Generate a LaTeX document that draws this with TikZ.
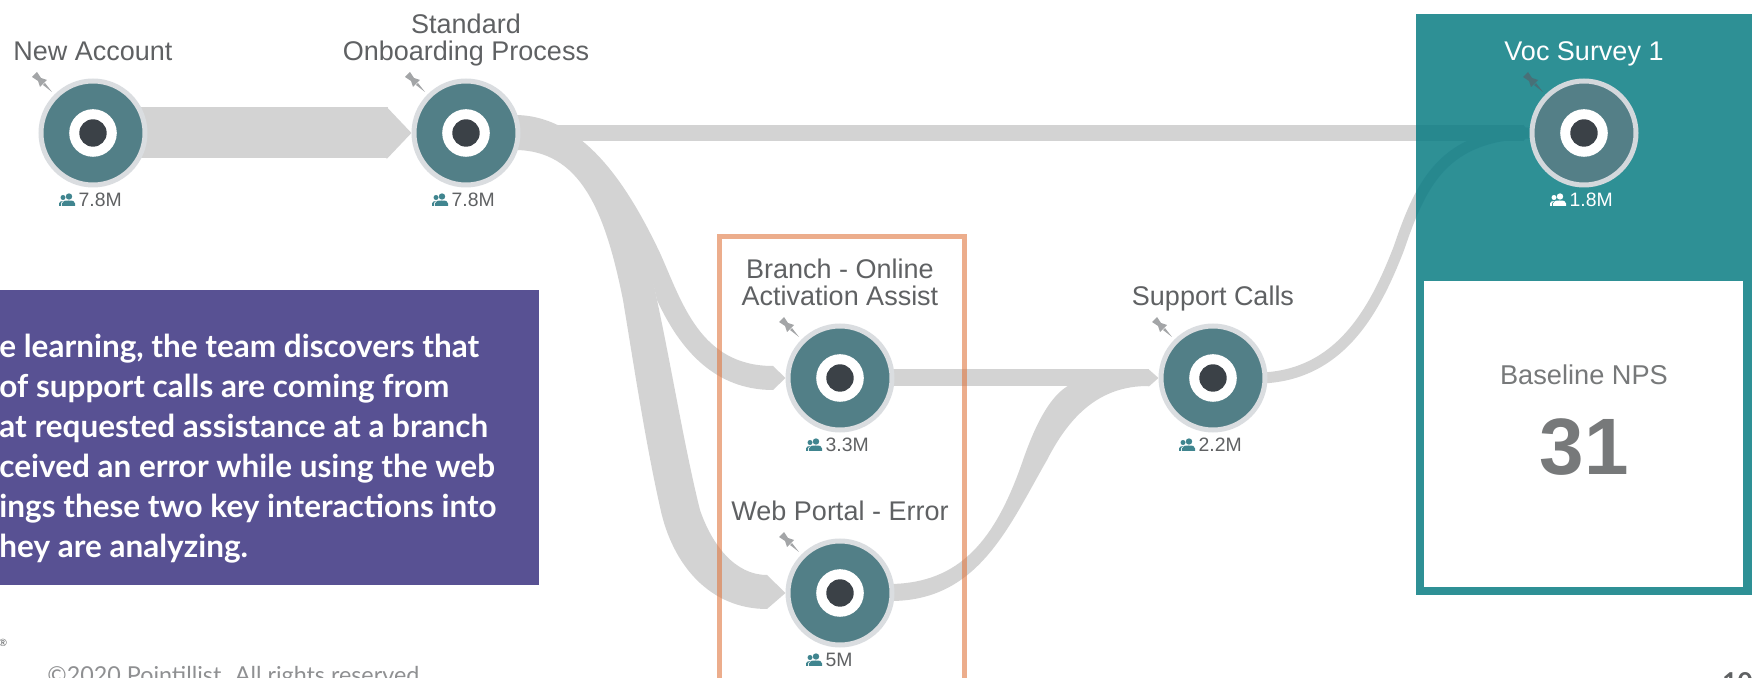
\documentclass[tikz,border=0pt]{standalone}
\usepackage{fontspec}
\setmainfont{Liberation Sans}
\newfontfamily\latofont{Lato}
\usetikzlibrary{arrows.meta,positioning,backgrounds}

\definecolor{ribbongrey}{HTML}{D3D3D3}
\definecolor{ringteal}{HTML}{527F87}
\definecolor{ringedge}{HTML}{DADDE0}
\definecolor{eyedark}{HTML}{3B4147}
\definecolor{labelgrey}{HTML}{5F6163}
\definecolor{pingrey}{HTML}{A3A5A7}
\definecolor{folkteal}{HTML}{40858F}
\definecolor{panelteal}{RGB}{9,124,131}
\definecolor{noteviolet}{HTML}{585193}
\definecolor{hiliteorange}{RGB}{223,118,63}

\tikzset{
    stage/.style={circle, fill=ringteal, draw=ringedge, line width=2.5pt, minimum size=52pt, inner sep=0pt,
        path picture={
            \fill[white] (path picture bounding box.center) circle (11.9pt);
            \fill[eyedark] (path picture bounding box.center) circle (6.85pt);
        }},
    title/.style={font=\fontsize{13.5}{13.5}\selectfont, text=labelgrey, align=center, inner sep=0pt, text depth=0pt},
    tally/.style={font=\fontsize{9.7}{10}\selectfont, text=labelgrey, inner sep=0pt, text height=6.95pt, text depth=0pt},
    ribbon/.style={draw=none, fill=ribbongrey},
    band/.style={draw=ribbongrey, shorten <=-5pt},
    pin/.pic={
        \fill[pic actions] (-61,-56) -- (-56,-61) -- (-52,-55) -- (-46,-53) -- (-53,-46) -- (-55,-52) -- cycle;
        \fill[pic actions] (-50,-48) -- (-48,-50) -- (-41,-41) -- cycle;
    },
    folks/.pic={
        \fill[pic actions] (-24,63.5) circle (3.2);
        \fill[pic actions] (-31,73) -- (-31,70.5) .. controls (-31,68) and (-28,67.5) .. (-24.5,67.5)
            .. controls (-20,67.5) and (-18,68) .. (-18,70.5) -- (-18,73) -- cycle;
        \fill[pic actions] (-30,64.5) circle (2.5);
        \fill[pic actions] (-34,73) -- (-34,70.5) .. controls (-34,69) and (-32,68) .. (-30,68)
            -- (-32,70) -- (-32,73) -- cycle;
    }
}

\begin{document}
\begin{tikzpicture}[x=0.5pt, y=-0.5pt]
    \path[use as bounding box, clip] (0,0) rectangle (1758,678);

    % stages
    \node[stage] (acct) at (93,133) {};
    \node[stage] (onb) at (466,133) {};
    \node[stage] (branch) at (840,378) {};
    \node[stage] (web) at (840,593) {};
    \node[stage] (supp) at (1213,378) {};
    \node[stage, fill=ringteal!95!gray, draw=ringedge!95!ringteal] (voc) at (1584,133) {};

    % flows and the teal panel go under the stages
    \begin{scope}[on background layer]
        \draw[band, line width=25.5pt, -{Triangle[length=12.5pt, width=0pt 1]}] (acct) -- (onb);
        \draw[band, line width=8pt, -{Triangle[length=3pt, width=0pt 1]}] (onb) -- (voc);
        \draw[band, line width=8.5pt, -{Triangle[length=5pt, width=0pt 1]}] (branch) -- (supp);
        \fill[ribbon] ([xshift=-3pt, yshift=9pt]onb.east) .. controls (585,115) and (630,190) .. (660,253)
            .. controls (682,302) and (700,366) .. (773,366) -- (branch.west) -- (773,390)
            .. controls (715,390) and (680,350) .. (657,300)
            .. controls (640,220) and (590,135) .. (onb.east) -- cycle;
        \fill[ribbon] ([xshift=-3pt, yshift=-8.5pt]onb.east) .. controls (580,150) and (605,210) .. (623,300)
            .. controls (633,360) and (645,440) .. (660,507)
            .. controls (672,565) and (710,609) .. (767,609) -- (web.west) -- (767,575)
            .. controls (735,575) and (712,545) .. (700,510)
            .. controls (685,450) and (672,370) .. (657,300)
            .. controls (640,210) and (590,125) .. (onb.east) -- cycle;
        \fill[ribbon] ([xshift=-2pt, yshift=4.5pt]web.east) .. controls (960,583) and (995,540) .. (1022,463)
            .. controls (1040,410) and (1060,381) .. (1085,381) -- (1148,386)
            .. controls (1100,386) and (1070,415) .. (1047,460)
            .. controls (1008,528) and (978,601) .. ([xshift=-2pt, yshift=-4pt]web.east) -- cycle;
        \draw[band, line width=5.5pt] (supp.east) .. controls (1340,377) and (1375,310) .. (1399,248)
            .. controls (1422,180) and (1445,136) .. (voc.west);
        \fill[panelteal, opacity=.85] (1415.5,14) rectangle (1751.5,595);
        \fill[white] (1424,281) rectangle (1743,587);
    \end{scope}

    % note on the left
    \fill[noteviolet] (0,290) rectangle (539,585);
    \node[anchor=west, align=left, inner sep=0pt, text=white,
        font=\latofont\bfseries\fontsize{15.75}{20}\selectfont] (note) at (-1,449) {e learning, the team discovers that\\
        of support calls are coming from\\
        at requested assistance at a branch\\
        ceived an error while using the web\\
        ings these two key interactions into\\
        hey are analyzing.};

    % orange frame round the two stages
    \draw[hiliteorange, opacity=.6, line width=2.5pt] (719.5,236.5) rectangle (964,720);

    % titles
    \node[title, above=36pt of acct.center] (acctname) {New Account};
    \node[title, above=36pt of onb.center] (onbname) {Standard\\Onboarding Process};
    \node[title, above=36pt of branch.center] (branchname) {Branch - Online\\Activation Assist};
    \node[title, above=36pt of web.center] (webname) {Web Portal - Error};
    \node[title, above=36pt of supp.center] (suppname) {Support Calls};
    \node[title, text=white, above=36pt of voc.center] (vocname) {Voc Survey 1};

    % counts
    \node[tally, below right=29.8pt and -7.35pt of acct.center] (acctnum) {7.8M};
    \node[tally, below right=29.8pt and -7.35pt of onb.center] (onbnum) {7.8M};
    \node[tally, below right=29.8pt and -7.35pt of branch.center] (branchnum) {3.3M};
    \node[tally, below right=29.8pt and -7.35pt of web.center] (webnum) {5M};
    \node[tally, below right=29.8pt and -7.35pt of supp.center] (suppnum) {2.2M};
    \node[tally, text=white, below right=29.8pt and -7.35pt of voc.center] (vocnum) {1.8M};

    % pins and people marks
    \pic[fill=pingrey] at (acct) {pin};
    \pic[fill=pingrey] at (onb) {pin};
    \pic[fill=pingrey] at (branch) {pin};
    \pic[fill=pingrey] at (web) {pin};
    \pic[fill=pingrey] at (supp) {pin};
    \pic[fill=ringteal!88!black] at (voc) {pin};
    \pic[fill=folkteal] at (acct) {folks};
    \pic[fill=folkteal] at (onb) {folks};
    \pic[fill=folkteal] at (branch) {folks};
    \pic[fill=folkteal] at (web) {folks};
    \pic[fill=folkteal] at (supp) {folks};
    \pic[fill=white] at (voc) {folks};

    % score card
    \node[title, anchor=base, text depth=, font=\fontsize{13.6}{14}\selectfont, text=labelgrey!85!white] (basename) at (1584,385) {Baseline NPS};
    \node[anchor=base, inner sep=0pt, font=\bfseries\fontsize{40}{40}\selectfont, text=labelgrey!85!white] (score) at (1584,475) {31};

    % slide footer
    \node[inner sep=0pt, font=\latofont\fontsize{5}{5}\selectfont, text=labelgrey] (regmark) at (3,643) {®};
    \node[anchor=base west, inner sep=0pt, font=\latofont\fontsize{11.66}{12}\selectfont, text=labelgrey!70!white] (foot) at (47,683) {©2020 Pointillist. All rights reserved.};
    \node[anchor=base east, inner sep=0pt, font=\latofont\bfseries\fontsize{13}{13}\selectfont, text=labelgrey] (pagenum) at (1753,691) {10};
\end{tikzpicture}
\end{document}
